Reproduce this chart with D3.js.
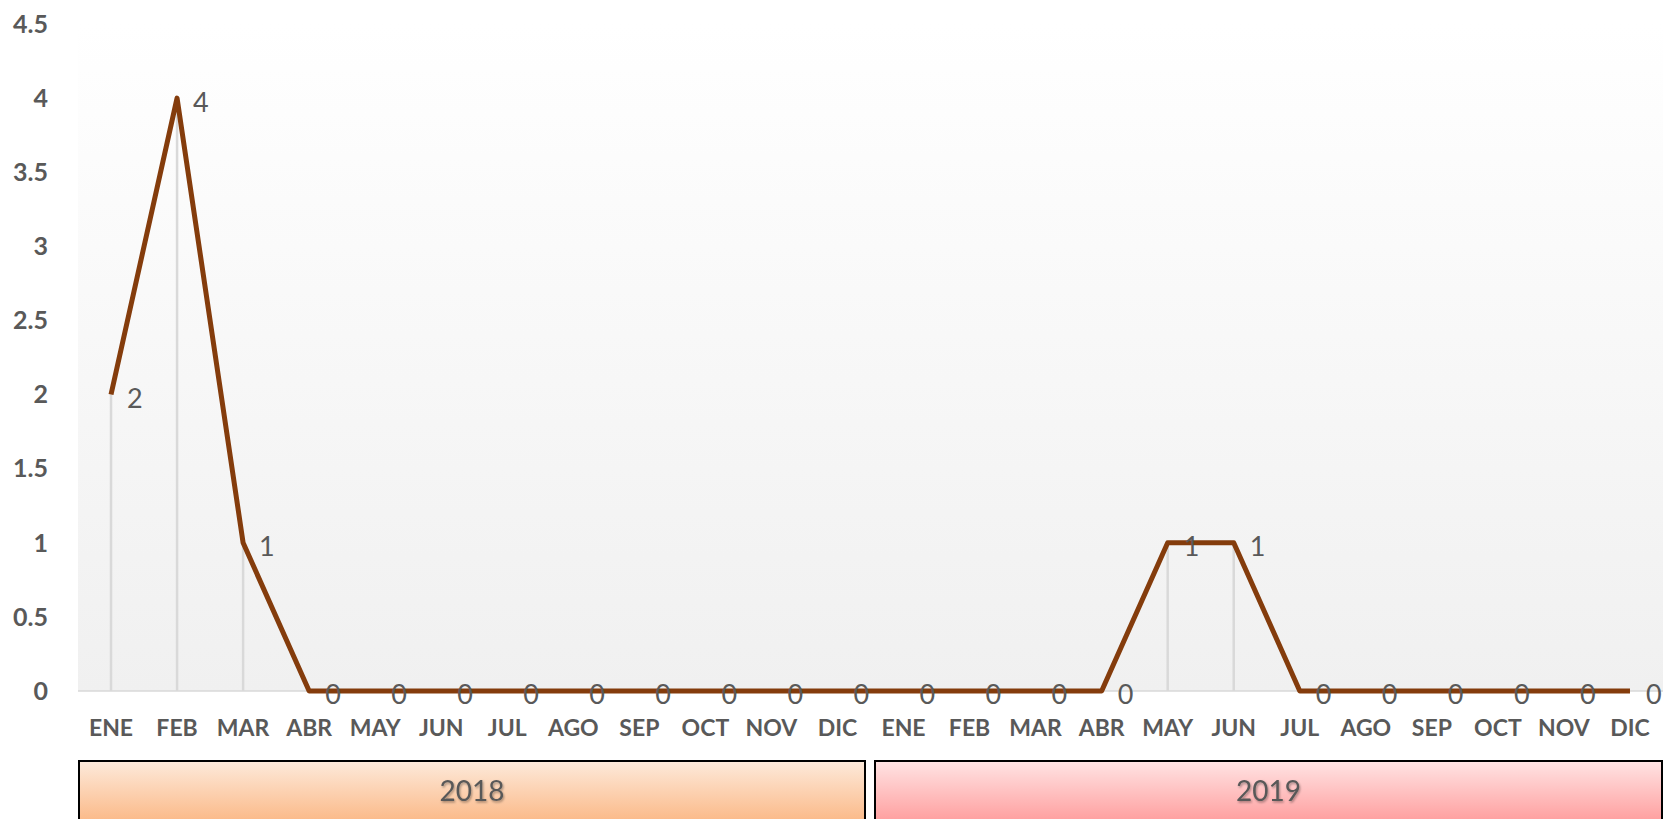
<!DOCTYPE html>
<html>
<head>
<meta charset="utf-8">
<script src="https://cdn.jsdelivr.net/npm/d3@7"></script>
<style>
  body { margin: 0; background: #fff; }
  text { font-family: Lato, "Open Sans", sans-serif; }
</style>
</head>
<body>
<div id="chart"></div>
<script>

// Data

var years = ['2018', '2019'];
var months = ['ENE', 'FEB', 'MAR', 'ABR', 'MAY', 'JUN', 'JUL', 'AGO', 'SEP', 'OCT', 'NOV', 'DIC'];
var values2018 = [2, 4, 1, 0, 0, 0, 0, 0, 0, 0, 0, 0];
var values2019 = [0, 0, 0, 0, 1, 1, 0, 0, 0, 0, 0, 0];
var yTicks = [0, 0.5, 1, 1.5, 2, 2.5, 3, 3.5, 4, 4.5];

// Dimensions

var width = 1663;
var height = 819;
var plotLeft = 78, plotRight = 1663, plotTop = 24, plotBottom = 691;

var data = [];
years.forEach(function(y, i) {
  var vals = i === 0 ? values2018 : values2019;
  months.forEach(function(m, j) {
    data.push({ key: y + '-' + m, year: y, month: m, value: vals[j] });
  });
});

var x = d3.scaleBand()
  .domain(data.map(function(d) { return d.key; }))
  .range([plotLeft, plotRight]);

var y = d3.scaleLinear()
  .domain([0, 4.5])
  .range([plotBottom, plotTop]);

var svg = d3.select('#chart').append('svg')
  .attr('width', width)
  .attr('height', height);

var defs = svg.append('defs');

function vGrad(id, c1, c2) {
  var g = defs.append('linearGradient')
    .attr('id', id)
    .attr('x1', 0).attr('y1', 0).attr('x2', 0).attr('y2', 1);
  g.append('stop').attr('offset', '0%').attr('stop-color', c1);
  g.append('stop').attr('offset', '100%').attr('stop-color', c2);
}
vGrad('bg', '#ffffff', '#f0f0f0');
vGrad('g2018', '#fdeadb', '#fbb886');
vGrad('g2019', '#ffe4e4', '#ff9d9d');

var shadow = defs.append('filter').attr('id', 'shadow');
shadow.append('feDropShadow')
  .attr('dx', 1).attr('dy', 1.5).attr('stdDeviation', 1)
  .attr('flood-color', '#000').attr('flood-opacity', 0.35);

// Plot area

svg.append('rect')
  .attr('x', plotLeft)
  .attr('y', plotTop)
  .attr('width', plotRight - plotLeft)
  .attr('height', plotBottom - plotTop)
  .attr('fill', 'url(#bg)');

// Y axis labels

svg.append('g')
  .selectAll('text')
  .data(yTicks)
  .enter()
  .append('text')
  .attr('x', 48)
  .attr('y', function(d) { return y(d); })
  .attr('dy', '0.35em')
  .attr('text-anchor', 'end')
  .attr('font-size', 25)
  .attr('font-weight', 'bold')
  .attr('fill', '#595959')
  .text(function(d) { return d; });

// Drop lines

var cx = function(d) { return x(d.key) + x.bandwidth() / 2; };

svg.append('g')
  .selectAll('line')
  .data(data)
  .enter()
  .append('line')
  .attr('x1', cx).attr('x2', cx)
  .attr('y1', function(d) { return y(d.value); })
  .attr('y2', y(0))
  .attr('stroke', '#d9d9d9')
  .attr('stroke-width', 2.5);

// Baseline

svg.append('line')
  .attr('x1', plotLeft).attr('x2', plotRight)
  .attr('y1', y(0)).attr('y2', y(0))
  .attr('stroke', '#d9d9d9')
  .attr('stroke-width', 1.5);

// Line

var line = d3.line()
  .x(cx)
  .y(function(d) { return y(d.value); });

svg.append('path')
  .datum(data)
  .attr('d', line)
  .attr('fill', 'none')
  .attr('stroke', '#843c0c')
  .attr('stroke-width', 5)
  .attr('stroke-linejoin', 'round');

// Data labels

svg.append('g')
  .selectAll('text')
  .data(data)
  .enter()
  .append('text')
  .attr('x', function(d) { return cx(d) + 16; })
  .attr('y', function(d) { return y(d.value) + 4; })
  .attr('dy', '0.35em')
  .attr('font-size', 27)
  .attr('fill', '#595959')
  .text(function(d) { return d.value; });

// X axis labels

svg.append('g')
  .selectAll('text')
  .data(data)
  .enter()
  .append('text')
  .attr('x', cx)
  .attr('y', 728)
  .attr('dy', '0.35em')
  .attr('text-anchor', 'middle')
  .attr('font-size', 23)
  .attr('font-weight', 'bold')
  .attr('fill', '#595959')
  .text(function(d) { return d.month; });

// Year boxes

var yearGroups = svg.append('g')
  .selectAll('g')
  .data(years)
  .enter()
  .append('g');

var boxLeft = function(d, i) { return x(d + '-ENE') + (i === 0 ? 1 : 4.5); };
var boxRight = function(d, i) { return x(d + '-DIC') + x.bandwidth() - (i === years.length - 1 ? 1 : 5.5); };

yearGroups.append('rect')
  .attr('x', boxLeft)
  .attr('y', 761)
  .attr('width', function(d, i) { return boxRight(d, i) - boxLeft(d, i); })
  .attr('height', 62)
  .attr('fill', function(d) { return 'url(#g' + d + ')'; })
  .attr('stroke', '#000')
  .attr('stroke-width', 2);

yearGroups.append('text')
  .attr('x', function(d, i) { return (boxLeft(d, i) + boxRight(d, i)) / 2; })
  .attr('y', 791)
  .attr('dy', '0.35em')
  .attr('text-anchor', 'middle')
  .attr('font-size', 28)
  .attr('fill', '#595959')
  .attr('filter', 'url(#shadow)')
  .text(function(d) { return d; });

</script>
</body>
</html>
